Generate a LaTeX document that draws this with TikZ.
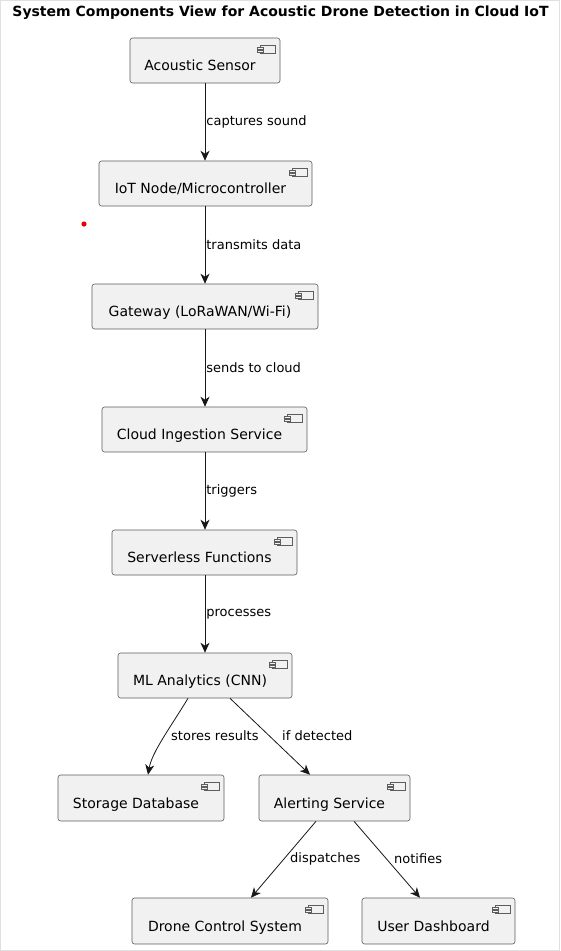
\documentclass[tikz,border=0pt]{standalone}
\usepackage{fontspec}
\setmainfont{DejaVu Sans}
\usetikzlibrary{arrows.meta}
\definecolor{boxfill}{HTML}{F1F1F1}
\definecolor{ink}{HTML}{181818}
\tikzset{
  comp/.style={draw=ink!70, fill=boxfill, line width=0.6pt, rounded corners=2.5pt, inner sep=0pt},
  comptext/.style={font=\fontsize{14}{16}\selectfont, text=black, inner sep=0pt, anchor=base},
  icon/.style={draw=ink!70, fill=boxfill, line width=0.5pt},
  arr/.style={draw=ink, line width=0.8pt, -{Stealth[length=10pt,width=9pt,inset=3pt]}},
  elabel/.style={font=\fontsize{13}{15}\selectfont, text=black, inner sep=1pt, anchor=west},
}
\newcommand\mycomp[6]{% name, x1, y1, x2, y2, text
  \node[comp, minimum width={#4-#2}, minimum height={#5-#3}] (#1) at ({(#2+#4)/2},{(#3+#5)/2}) {};
  \node[comptext] (#1T) at ({(#2+#4)/2-5},{(#3+#5)/2+10}) {#6};
  \draw[icon] ([xshift=-20,yshift=-8]#1.north east) rectangle ([xshift=-5,yshift=-16]#1.north east);
  \draw[icon] ([xshift=-23,yshift=-9.5]#1.north east) rectangle ([xshift=-17,yshift=-11.5]#1.north east);
  \draw[icon] ([xshift=-23,yshift=-12.5]#1.north east) rectangle ([xshift=-17,yshift=-14.5]#1.north east);
}
\begin{document}
\begin{tikzpicture}[x=1pt,y=-1pt]
\useasboundingbox (0,0) rectangle (560,951);
\fill[white] (0,0) rectangle (560,951);
\draw[black!12, line width=0.8pt] (0.5,0.5) rectangle (559.5,950.5);
\node[font=\bfseries\fontsize{14}{16}\selectfont, inner sep=0pt] (title) at (280.5,13) {System Components View for Acoustic Drone Detection in Cloud IoT};

\mycomp{as}{130}{38}{280}{83}{Acoustic Sensor}
\mycomp{iot}{99}{161}{312}{206}{IoT Node/Microcontroller}
\mycomp{gw}{92}{284}{318}{329}{Gateway (LoRaWAN/Wi-Fi)}
\mycomp{ci}{102}{407}{307}{452}{Cloud Ingestion Service}
\mycomp{sf}{112}{530}{297}{575}{Serverless Functions}
\mycomp{ml}{118}{653}{292}{698}{ML Analytics (CNN)}
\mycomp{db}{58}{775}{224}{821}{Storage Database}
\mycomp{al}{259}{775}{410}{821}{Alerting Service}
\mycomp{dc}{132}{898}{328}{944}{Drone Control System}
\mycomp{ud}{362}{898}{515}{944}{User Dashboard}

\fill[red!90!black] (84,224) circle (2.6);

\draw[arr] (as.south) -- (as.south |- iot.north) node[midway, elabel] {captures sound};
\draw[arr] (as.south |- iot.south) -- (as.south |- gw.north) node[midway, elabel] {transmits data};
\draw[arr] (as.south |- gw.south) -- (as.south |- ci.north) node[midway, elabel] {sends to cloud};
\draw[arr] (as.south |- ci.south) -- (as.south |- sf.north) node[midway, elabel] {triggers};
\draw[arr] (as.south |- sf.south) -- (as.south |- ml.north) node[midway, elabel] {processes};

\draw[arr] ([xshift=-17]ml.south) .. controls (170,728) and (152,752) .. ([xshift=7]db.north);
\node[elabel] (l1) at (170,736) {stores results};
\draw[arr] ([xshift=25]ml.south) -- ([xshift=-24.5]al.north);
\node[elabel] (l2) at (281,736) {if detected};
\draw[arr] ([xshift=-18.5]al.south) -- ([xshift=21]dc.north);
\node[elabel] (l3) at (289,859) {dispatches};
\draw[arr] ([xshift=19.5]al.south) -- ([xshift=-18.5]ud.north);
\node[elabel] (l4) at (393,859) {notifies};
\end{tikzpicture}
\end{document}
